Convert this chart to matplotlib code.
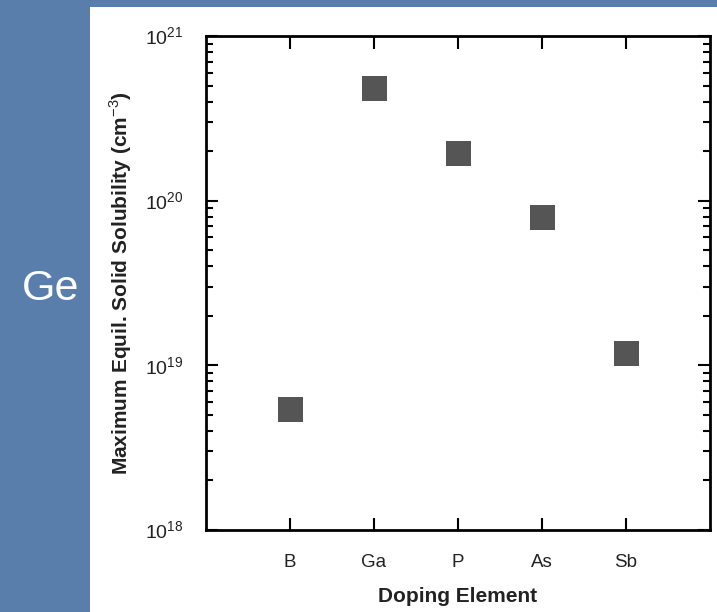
import matplotlib
matplotlib.use("Agg")
import matplotlib.pyplot as plt
from matplotlib.patches import Rectangle
from matplotlib.ticker import FixedLocator, LogLocator, NullFormatter

plt.rcParams['font.family'] = ['Liberation Sans', 'DejaVu Sans']
plt.rcParams['mathtext.fontset'] = 'custom'
plt.rcParams['mathtext.rm'] = 'Liberation Sans'

# data
elements = ['B', 'Ga', 'P', 'As', 'Sb']
solubility = [5.4e18, 4.8e20, 1.95e20, 8.0e19, 1.19e19]

fig = plt.figure(figsize=(7.17, 6.12), dpi=100)
fig.patch.set_facecolor('#5a7eab')
# white slide panel, kept below the axes
fig.patches.append(Rectangle((90 / 717, 0), 1, (612 - 7) / 612,
                             transform=fig.transFigure, facecolor='white',
                             edgecolor='none', zorder=-5))
fig.text(51 / 717, 1 - 289 / 612, 'Ge', color='white', fontsize=31,
         ha='center', va='center')

ax = fig.add_axes([206 / 717, 82 / 612, 504 / 717, 494 / 612])
ax.set_zorder(2)
x = list(range(1, len(elements) + 1))
ax.plot(x, solubility, 's', color='#555555', markersize=18, markeredgewidth=0)

ax.set_yscale('log')
ax.set_ylim(1e18, 1e21)
ax.set_xlim(0, 6)
ax.xaxis.set_major_locator(FixedLocator(x))
ax.set_xticklabels(elements)
ax.yaxis.set_minor_locator(LogLocator(base=10, subs=range(2, 10), numticks=20))
ax.yaxis.set_minor_formatter(NullFormatter())
ax.set_yticks([1e18, 1e19, 1e20, 1e21])
ax.set_yticklabels([r'$10^{18}$', r'$10^{19}$', r'$10^{20}$', r'$10^{21}$'])

for s in ax.spines.values():
    s.set_linewidth(2)
ax.tick_params(axis='both', which='both', direction='in', top=True, right=True,
               colors='black', labelcolor='#222222')
ax.tick_params(axis='y', which='major', length=8.5, width=1.5, pad=16,
               labelsize=14)
ax.tick_params(axis='y', which='minor', length=5, width=1.5)
ax.tick_params(axis='x', which='major', length=9, width=1.5, pad=17,
               labelsize=13.5)

ax.set_xlabel('Doping Element', fontsize=15, fontweight='bold',
              color='#222222', labelpad=12)
ax.set_ylabel('Maximum Equil. Solid Solubility (cm$^{-3}$)', fontsize=15,
              fontweight='bold', color='#222222', labelpad=8)

fig.savefig('out.png', dpi=100, facecolor=fig.get_facecolor())
